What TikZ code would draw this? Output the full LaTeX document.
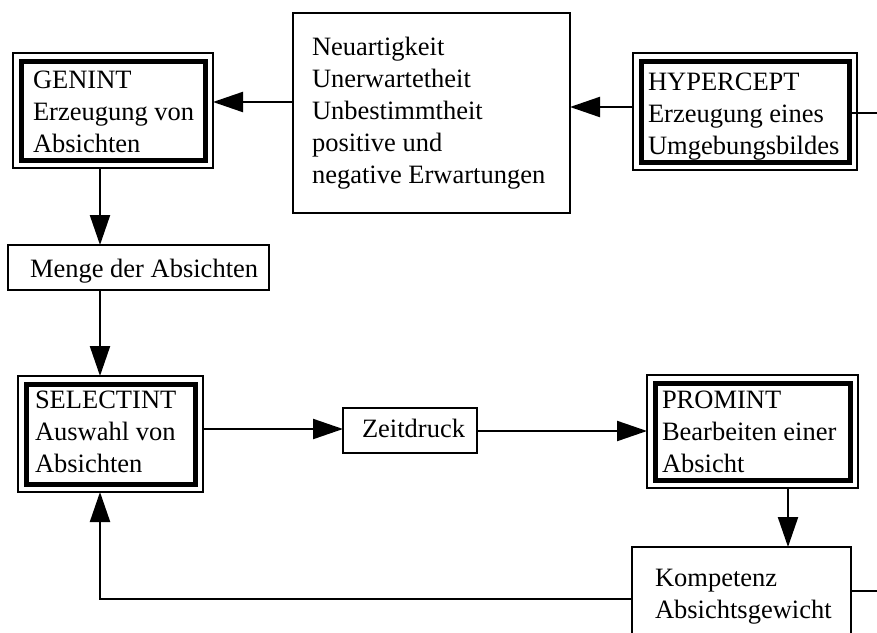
\documentclass[tikz,border=0pt]{standalone}
\usepackage{fontspec}
\setmainfont{Liberation Serif}
\usetikzlibrary{arrows.meta,calc}
\begin{document}
\begin{tikzpicture}[x=1pt,y=-1pt,
  box/.style={draw, line width=2.2pt, inner sep=0pt, outer sep=0pt, rectangle},
  outerbox/.style={draw, line width=2pt, inner sep=0pt, outer sep=0pt, rectangle},
  innerbox/.style={draw, line width=5pt, inner sep=0pt, outer sep=0pt, rectangle},
  txt/.style={anchor=base west, inner sep=0pt, outer sep=0pt, font=\fontsize{26.5}{32}\selectfont},
  arr/.style={line width=2.2pt, -{Triangle[length=30pt,width=20pt]}},
  ln/.style={line width=2.2pt}
]
\useasboundingbox (0,0) rectangle (877,632);
\clip (0,0) rectangle (877,632);

% GENINT
\node[outerbox, minimum width=200, minimum height=115] (genint) at (113,110.5) {};
\node[innerbox, minimum width=184, minimum height=99] (genintin) at (113,110.5) {};
\node[txt] (genintt) at (33,88) {\begin{tabular}[t]{@{}l@{}}GENINT\\Erzeugung von\\Absichten\end{tabular}};

% middle box
\node[box, minimum width=277, minimum height=200] (mid) at (431.5,113) {};
\node[txt] (midt) at (312,55) {\begin{tabular}[t]{@{}l@{}}Neuartigkeit\\Unerwartetheit\\Unbestimmtheit\\positive und\\negative Erwartungen\end{tabular}};

% HYPERCEPT
\node[outerbox, minimum width=224, minimum height=117] (hyper) at (745,111.5) {};
\node[innerbox, minimum width=208, minimum height=101] (hyperin) at (745,111.5) {};
\node[txt] (hypert) at (648,90) {\begin{tabular}[t]{@{}l@{}}HYPERCEPT\\Erzeugung eines\\Umgebungsbildes\end{tabular}};

% Menge
\node[box, minimum width=261, minimum height=45] (menge) at (138.5,267.5) {};
\node[txt] (menget) at (30,277) {Menge der Absichten};

% SELECTINT
\node[outerbox, minimum width=185, minimum height=116] (sel) at (110.5,434) {};
\node[innerbox, minimum width=169, minimum height=100] (selin) at (110.5,434) {};
\node[txt] (selt) at (35,408) {\begin{tabular}[t]{@{}l@{}}SELECTINT\\Auswahl von\\Absichten\end{tabular}};

% Zeitdruck
\node[box, minimum width=134, minimum height=45] (zeit) at (410,430.5) {};
\node[txt] (zeitt) at (362,437) {Zeitdruck};

% PROMINT
\node[outerbox, minimum width=211, minimum height=113] (prom) at (752.5,431.5) {};
\node[innerbox, minimum width=195, minimum height=97] (promin) at (752.5,431.5) {};
\node[txt] (promt) at (662,408) {\begin{tabular}[t]{@{}l@{}}PROMINT\\Bearbeiten einer\\Absicht\end{tabular}};

% Kompetenz
\node[box, minimum width=219, minimum height=96] (komp) at (741.5,595) {};
\node[txt] (kompt) at (655,586) {\begin{tabular}[t]{@{}l@{}}Kompetenz\\Absichtsgewicht\end{tabular}};

% free ends
\coordinate (outA) at (877,113);
\coordinate (outB) at (877,591);
\coordinate (corner) at (100,599);

% connectors
\draw[arr] (mid.west |- 0,102) -- (genint.east |- 0,102);
\draw[arr] (hyper.west |- 0,107) -- (mid.east |- 0,107);
\draw[ln] (hyperin.east |- outA) -- (outA);
\draw[arr] (genint.south -| 100,0) -- (menge.north -| 100,0);
\draw[arr] (menge.south -| 100,0) -- (sel.north -| 100,0);
\draw[arr] (sel.east |- 0,429) -- (zeit.west |- 0,429);
\draw[arr] (zeit.east |- 0,431) -- (prom.west |- 0,431);
\draw[arr] (prom.south -| 788,0) -- (komp.north -| 788,0);
\draw[arr] (komp.west |- corner) -- (corner) -- (sel.south -| corner);
\draw[ln] (komp.east |- outB) -- (outB);
\end{tikzpicture}
\end{document}
